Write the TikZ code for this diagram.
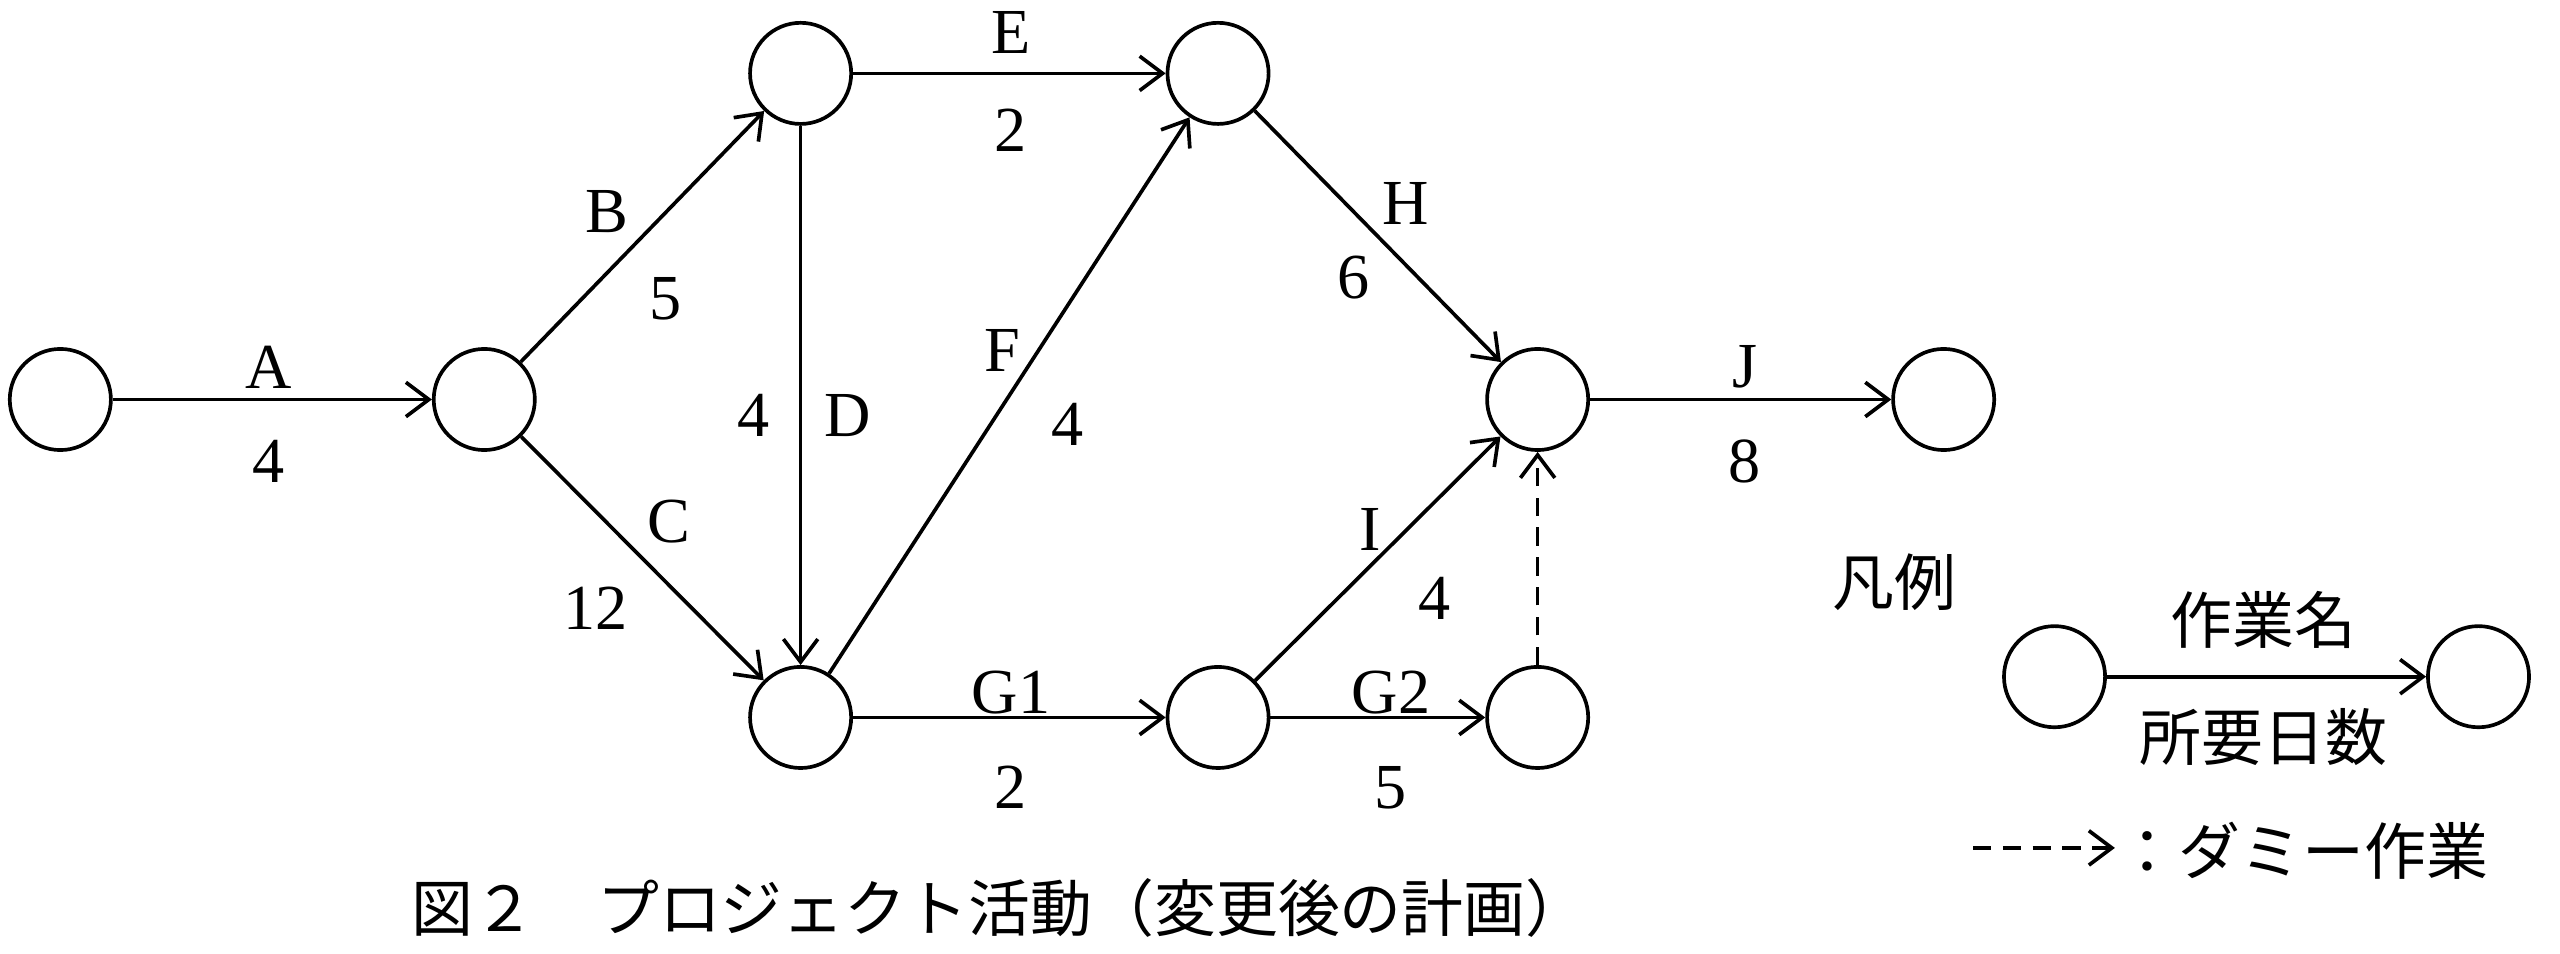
\documentclass[tikz,border=0pt]{standalone}
\usepackage{fontspec}
\setmainfont{Liberation Serif}
\newfontfamily\jp{Noto Sans CJK JP}
\usetikzlibrary{arrows.meta}
\begin{document}
\begin{tikzpicture}[x=0.025cm,y=-0.025cm,
  ev/.style={draw,circle,minimum size=1.55cm,inner sep=0pt,line width=1.6pt},
  act/.style={-{Straight Barb[length=10pt,width=15pt,line width=1.6pt]},line width=1.6pt},
  dsh/.style={dash pattern=on 8pt off 5pt},
  lb/.style={font=\fontsize{28}{30}\selectfont,inner sep=0pt},
  jl/.style={font=\jp\fontsize{27}{30}\selectfont,inner sep=0pt}]
\useasboundingbox (0,0) rectangle (1570,585);
\node[ev] (n0) at (37,245) {};
\node[ev] (n1) at (297,245) {};
\node[ev] (n2) at (491,45) {};
\node[ev] (n3) at (491,440) {};
\node[ev] (n4) at (747,45) {};
\node[ev] (n5) at (943,245) {};
\node[ev] (n6) at (747,440) {};
\node[ev] (n7) at (943,440) {};
\node[ev] (n8) at (1192,245) {};
\draw[act] (n0) -- (n1);
\draw[act] (n1) -- (n2);
\draw[act] (n1) -- (n3);
\draw[act] (n2) -- (n4);
\draw[act] (n2) -- (n3);
\draw[act] (n3) -- (n4);
\draw[act] (n3) -- (n6);
\draw[act] (n4) -- (n5);
\draw[act] (n6) -- (n5);
\draw[act] (n6) -- (n7);
\draw[act,dsh] (n7) -- (n5);
\draw[act] (n5) -- (n8);
\node[lb] (tA) at (165,225) {A}; \node[lb] (dA) at (165,283) {4};
\node[lb] (tE) at (620,20) {E}; \node[lb] (dE) at (620,80) {2};
\node[lb] (tB) at (372,130) {B}; \node[lb] (dB) at (408,183) {5};
\node[lb] (tC) at (410,320) {C}; \node[lb] (dC) at (365,373) {12};
\node[lb] (dD) at (462,255) {4}; \node[lb] (tD) at (520,255) {D};
\node[lb] (tF) at (615,215) {F}; \node[lb] (dF) at (655,260) {4};
\node[lb] (tH) at (862,125) {H}; \node[lb] (dH) at (830,170) {6};
\node[lb] (tJ) at (1070,225) {J}; \node[lb] (dJ) at (1070,283) {8};
\node[lb] (tI) at (840,325) {I}; \node[lb] (dI) at (880,367) {4};
\node[lb] (tG1) at (620,425) {G1}; \node[lb] (dG1) at (620,483) {2};
\node[lb] (tG2) at (853,425) {G2}; \node[lb] (dG2) at (853,483) {5};
% legend
\node[jl] (hanrei) at (1162,357) {凡例};
\node[ev] (la) at (1260,415) {};
\node[ev] (lbn) at (1520,415) {};
\draw[act] (la) -- (lbn);
\node[jl] (ln) at (1388,380) {作業名};
\node[jl] (lt) at (1388,452) {所要日数};
\coordinate (d1) at (1210,520); \coordinate (d2) at (1297,520);
\draw[act,dsh] (d1) -- (d2);
\node[jl,anchor=west] (dm) at (1298,522) {：ダミー作業};
\node[jl,anchor=west] (cap) at (252,557) {図２　プロジェクト活動（変更後の計画）};
\end{tikzpicture}
\end{document}
